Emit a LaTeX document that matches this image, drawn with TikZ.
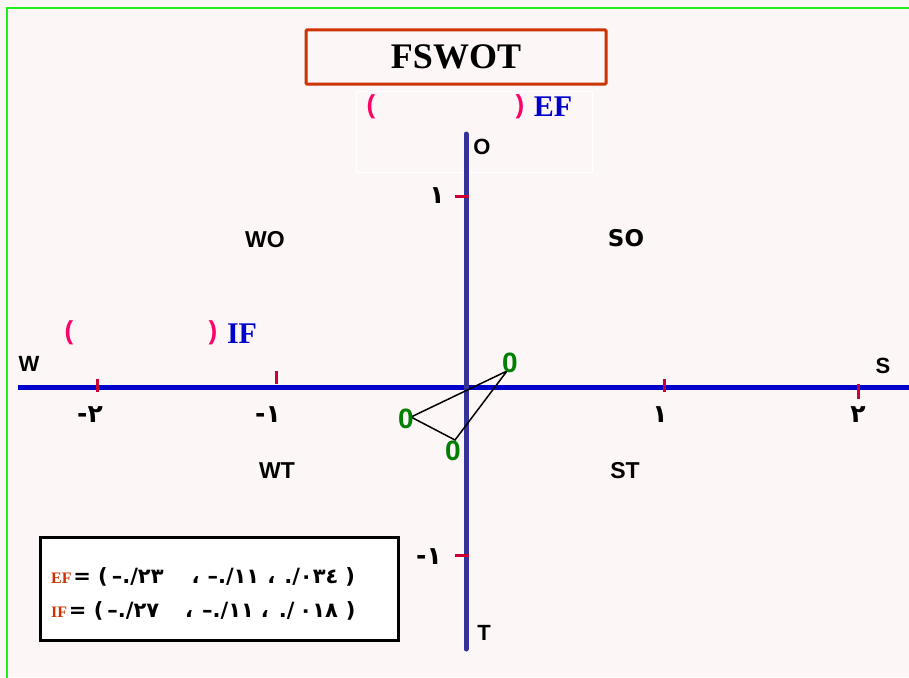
\documentclass[tikz,border=0pt]{standalone}
\usepackage{fontspec}
\setmainfont{Liberation Serif}
\newfontfamily\lsans{Liberation Sans}
\newfontfamily\dsans{DejaVu Sans}
\newfontfamily\arabicfont[Script=Arabic]{DejaVu Sans}
\TeXXeTstate=1
\definecolor{bgpink}{RGB}{252,246,246}
\definecolor{frame}{RGB}{30,240,30}
\definecolor{titlered}{RGB}{204,51,0}
\definecolor{pinkp}{RGB}{255,0,102}
\definecolor{efblue}{RGB}{0,0,204}
\definecolor{vblue}{RGB}{51,51,153}
\definecolor{tickred}{RGB}{204,0,51}
\definecolor{zgreen}{RGB}{0,128,0}
\tikzset{
  axlabel/.style={font=\lsans\bfseries\fontsize{22}{22}\selectfont, inner sep=0pt},
  quad/.style={font=\lsans\bfseries\fontsize{23}{23}\selectfont, inner sep=0pt},
  num/.style={font=\dsans\bfseries\fontsize{25}{25}\selectfont, inner sep=0pt},
  paren/.style={font=\lsans\bfseries\fontsize{26}{26}\selectfont, text=pinkp, inner sep=0pt},
  fname/.style={font=\bfseries\fontsize{30}{30}\selectfont, text=efblue, inner sep=0pt},
  zero/.style={font=\lsans\bfseries\fontsize{28}{28}\selectfont, text=zgreen, inner sep=0pt},
  tickmark/.style={draw=tickred, line width=3pt},
  haxis/.style={draw=efblue, line width=5pt},
  vaxis/.style={draw=vblue, line width=5pt, line cap=round},
  legline/.style={anchor=west, inner sep=0pt},
}
\newcommand{\legname}[1]{{\color{titlered}\bfseries\fontsize{16}{16}\selectfont #1}}
\newcommand{\legtext}[1]{{\arabicfont\bfseries\fontsize{21}{21}\selectfont #1}}
\begin{document}
\begin{tikzpicture}[x=1pt,y=-1pt]
\useasboundingbox (0,0) rectangle (909,677);
\fill[bgpink] (0,0) rectangle (909,677);
\draw[frame, line width=2.5pt] (7,680) -- (7,8) -- (912,8);

% title
\node[draw=titlered, line width=3pt, rounded corners=1pt, minimum width=300pt, minimum height=54pt,
      font=\bfseries\fontsize{36}{36}\selectfont] (title) at (456,57) {FSWOT};

% faint box
\node[draw=white, line width=1pt, minimum width=236pt, minimum height=81pt, inner sep=0pt] (efbox) at (474,131.5) {};
\node[paren] (efl) at (371,107) {(};
\node[paren] (efr) at (520,107) {)};
\node[fname] (ef) at (553,107) {EF};

% axes
\coordinate (hl) at (18,387);
\coordinate (hr) at (912,387);
\coordinate (vt) at (466,134);
\coordinate (vb) at (466,649);
\draw[haxis] (hl) -- (hr);
\draw[vaxis] (vt) -- (vb);

% ticks
\coordinate (t1a) at (455,196); \coordinate (t1b) at (469,196);
\coordinate (t2a) at (455,555); \coordinate (t2b) at (469,555);
\coordinate (t3a) at (97,379);  \coordinate (t3b) at (97,392);
\coordinate (t4a) at (276,371); \coordinate (t4b) at (276,384);
\coordinate (t5a) at (664,379); \coordinate (t5b) at (664,392);
\coordinate (t6a) at (858,384); \coordinate (t6b) at (858,399);
\foreach \t in {1,...,6} \draw[tickmark] (t\t a) -- (t\t b);

% axis letters
\node[axlabel] (O) at (482,147) {O};
\node[axlabel] (T) at (484,633) {T};
\node[axlabel] (W) at (29,364) {W};
\node[axlabel] (S) at (883,366) {S};

% quadrant labels
\node[quad] (WO) at (265,240) {WO};
\node[quad, font=\dsans\bfseries\fontsize{23}{23}\selectfont] (SO) at (626,238) {SO};
\node[quad] (WT) at (277,471) {WT};
\node[quad] (ST) at (625,471) {ST};

% numbers
\node[num] (n1) at (437,196) {١};
\node[num] (nm1v) at (429,557) {-١};
\node[num] (nm2) at (90,415) {-٢};
\node[num] (nm1) at (268,415) {-١};
\node[num] (np1) at (660,415) {١};
\node[num] (np2) at (858,415) {٢};

% IF
\node[paren] (ifl) at (69,333) {(};
\node[paren] (ifr) at (213,333) {)};
\node[fname] (if) at (242,334) {IF};

% triangle
\coordinate (pa) at (507,371);
\coordinate (pb) at (411,417);
\coordinate (pc) at (455,440);
\draw[black, line width=1.5pt] (pa) -- (pb) -- (pc) -- (pa);
\node[zero] (za) at (510,363) {0};
\node[zero] (zb) at (406,419) {0};
\node[zero] (zc) at (453,451) {0};

% legend
\node[draw=black, fill=white, line width=3pt, minimum width=358pt, minimum height=103pt, inner sep=0pt] (leg) at (219.5,589) {};
\node[legline] (l1) at (51,577) {\legname{EF}\,\legtext{= \beginR(\hspace{7pt}٠٣٤/.\hspace{9pt}،\hspace{8pt}١١/.–\hspace{8pt}،\hspace{28pt}٢٣/.–\hspace{4pt})\endR}};
\node[legline] (l2) at (51,611) {\legname{IF}\,\legtext{= \beginR(\hspace{8pt}٠١٨\hspace{5pt}/.\hspace{10pt}،\hspace{7pt}١١/.–\hspace{9pt}،\hspace{26pt}٢٧/.–\hspace{4pt})\endR}};
\end{tikzpicture}
\end{document}
